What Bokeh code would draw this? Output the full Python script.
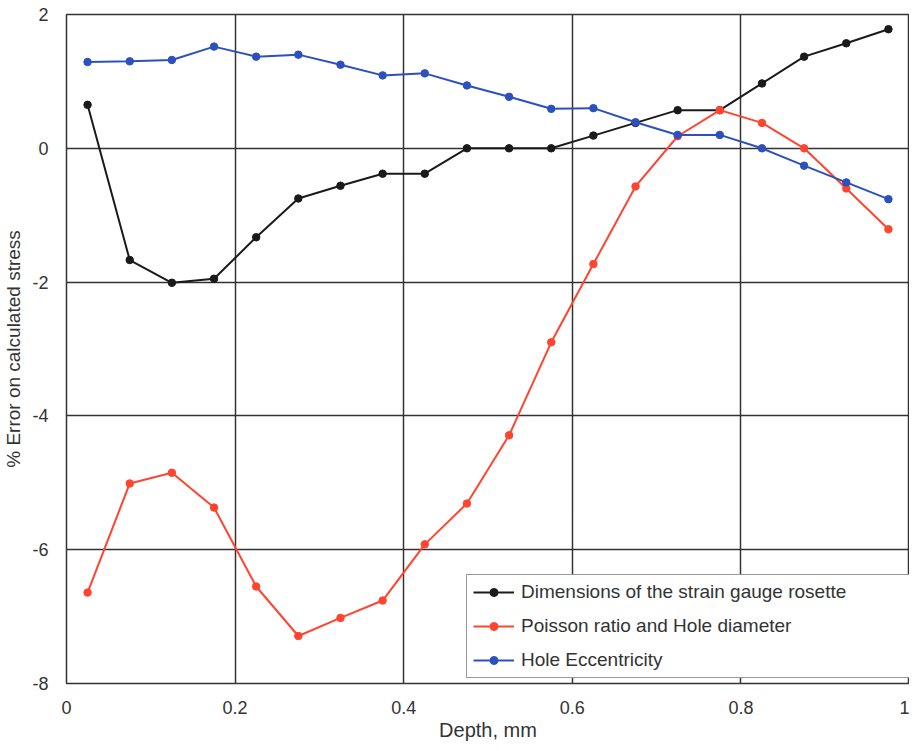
from bokeh.plotting import figure
from bokeh.models import FixedTicker, Legend, LegendItem, Range1d
from bokeh.embed import file_html
from bokeh.resources import INLINE

depth = [0.025, 0.075, 0.125, 0.175, 0.225, 0.275, 0.325, 0.375, 0.425, 0.475,
         0.525, 0.575, 0.625, 0.675, 0.725, 0.775, 0.825, 0.875, 0.925, 0.975]

dimensions = [0.65, -1.67, -2.01, -1.95, -1.33, -0.75, -0.56, -0.38, -0.38, 0.0,
              0.0, 0.0, 0.19, 0.38, 0.57, 0.57, 0.97, 1.37, 1.57, 1.78]

poisson = [-6.64, -5.01, -4.85, -5.37, -6.55, -7.29, -7.02, -6.76, -5.92, -5.31,
           -4.29, -2.90, -1.73, -0.57, 0.18, 0.57, 0.38, 0.0, -0.60, -1.21]

eccentricity = [1.29, 1.30, 1.32, 1.52, 1.37, 1.40, 1.25, 1.09, 1.12, 0.94,
                0.77, 0.59, 0.60, 0.39, 0.20, 0.20, 0.0, -0.26, -0.51, -0.76]

series_names = ["Dimensions of the strain gauge rosette",
                "Poisson ratio and Hole diameter",
                "Hole Eccentricity"]
series_colors = ["#1a1a1a", "#ff4430", "#2c50bd"]

x_ticks = [0, 0.2, 0.4, 0.6, 0.8, 1]
x_tick_labels = ["0", "0.2", "0.4", "0.6", "0.8", "1"]
y_ticks = [-8, -6, -4, -2, 0, 2]
y_tick_labels = ["-8", "-6", "-4", "-2", "0", "2"]

FONT = "Liberation Sans"
TEXT = "#333333"
GRID = "#333333"

p = figure(width=909, height=743, output_backend="svg", toolbar_location=None,
           x_range=Range1d(0, 1), y_range=Range1d(-8, 2),
           min_border_left=57, min_border_right=0, min_border_top=14,
           min_border_bottom=57)

p.background_fill_color = "white"
p.border_fill_color = "white"
p.outline_line_color = GRID
p.outline_line_width = 1.5

p.xaxis.ticker = FixedTicker(ticks=x_ticks)
p.yaxis.ticker = FixedTicker(ticks=y_ticks)
p.xaxis.major_label_overrides = dict(zip(x_ticks, x_tick_labels))
p.yaxis.major_label_overrides = dict(zip(y_ticks, y_tick_labels))

for ax in (p.xaxis[0], p.yaxis[0]):
    ax.axis_line_color = None
    ax.major_tick_line_color = None
    ax.minor_tick_line_color = None
    ax.major_label_text_font = FONT
    ax.major_label_text_font_size = "18px"
    ax.major_label_text_color = TEXT
    ax.axis_label_text_font = FONT
    ax.axis_label_text_font_style = "normal"
    ax.axis_label_text_color = TEXT

p.xaxis.axis_label_text_font_size = "20px"
p.yaxis.axis_label_text_font_size = "19px"
p.xaxis.axis_label = "Depth, mm"
p.yaxis.axis_label = "% Error on calculated stress"
p.xaxis.major_label_standoff = 11
p.xaxis.axis_label_standoff = 2
p.yaxis.major_label_standoff = 12
p.yaxis.axis_label_standoff = 5

p.grid.grid_line_color = GRID
p.grid.grid_line_width = 1.5
p.grid.grid_line_alpha = 1.0

items = []
for name, ys, col in zip(series_names, [dimensions, poisson, eccentricity], series_colors):
    ln = p.line(depth, ys, line_color=col, line_width=2)
    sc = p.scatter(depth, ys, marker="circle", size=7.5, fill_color=col, line_color=col)
    items.append(LegendItem(label=name, renderers=[ln, sc]))

legend = Legend(items=items, location=(400, 5))
legend.label_text_font = FONT
legend.label_text_font_size = "19px"
legend.label_text_color = TEXT
legend.glyph_width = 41
legend.glyph_height = 20
legend.label_height = 20
legend.label_width = 392
legend.label_standoff = 7
legend.spacing = 12
legend.padding = 6
legend.margin = 0
legend.border_line_color = GRID
legend.border_line_width = 1.5
legend.background_fill_color = "white"
legend.background_fill_alpha = 1.0
p.add_layout(legend, "center")

open("out.html", "w").write(file_html(p, INLINE))
